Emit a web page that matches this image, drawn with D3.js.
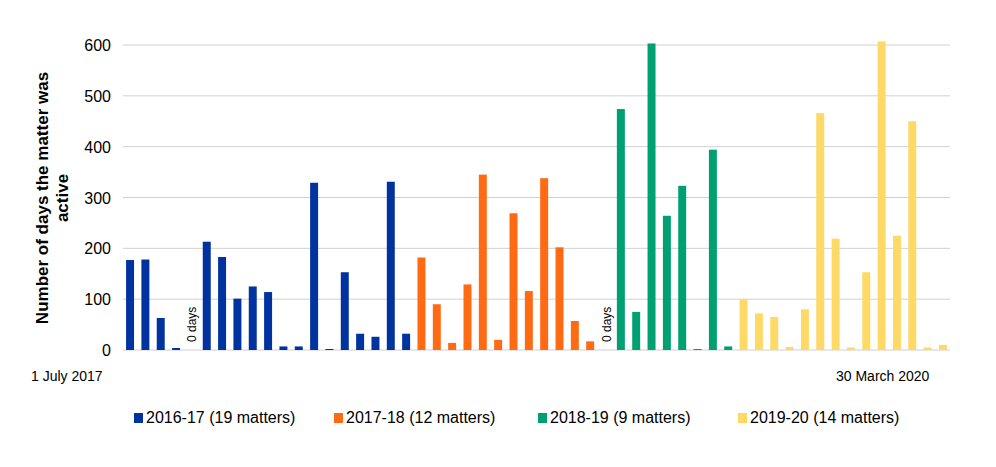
<!DOCTYPE html>
<html><head><meta charset="utf-8">
<script src="https://cdn.jsdelivr.net/npm/d3@7"></script>
<style>body{margin:0;background:#fff}text{font-family:Arial,"Liberation Sans",sans-serif}</style>
</head><body><svg id="c" width="996" height="467"></svg>
<script>
const series = ["2016-17 (19 matters)", "2017-18 (12 matters)", "2018-19 (9 matters)", "2019-20 (14 matters)"];
const colors = ["#0033a0", "#ff6a13", "#00a072", "#ffd966"];
const v1617 = [177, 178, 63, 4, 0, 213, 183, 101, 125, 114, 7, 7, 329, 2, 153, 32, 26, 331, 32];
const v1718 = [182, 90, 14, 129, 345, 20, 269, 116, 338, 202, 57, 17];
const v1819 = [0, 474, 75, 603, 264, 323, 2, 394, 7];
const v1920 = [100, 72, 65, 6, 80, 466, 219, 5, 153, 607, 225, 450, 5, 10];
const yTicks = [0, 100, 200, 300, 400, 500, 600];

const data = [];
[v1617, v1718, v1819, v1920].forEach((arr, s) => arr.forEach(v => data.push({s, v, i: data.length})));

const svg = d3.select("#c");
const x = d3.scaleBand().domain(data.map(d => d.i)).range([123, 950]).paddingInner(0.48).paddingOuter(0.2);
const y = d3.scaleLinear().domain([0, 600]).range([350, 45]);

svg.append("g").selectAll("line").data(yTicks).join("line")
  .attr("x1", 123).attr("x2", 950).attr("y1", d => y(d)).attr("y2", d => y(d))
  .attr("stroke", "#d0d0d0");
svg.append("g").selectAll("text").data(yTicks).join("text")
  .attr("x", 111).attr("y", d => y(d) + 6).attr("text-anchor", "end")
  .attr("font-size", 16).text(d => d);

svg.append("g").selectAll("rect").data(data).join("rect")
  .attr("x", d => x(d.i)).attr("width", x.bandwidth())
  .attr("y", d => y(d.v)).attr("height", d => y(0) - y(d.v))
  .attr("fill", d => colors[d.s]);

svg.append("g").selectAll("text").data(data.filter(d => d.v === 0)).join("text")
  .attr("transform", d => `translate(${x(d.i) + x.bandwidth() / 2 + 5},${y(0) - 8}) rotate(-90)`)
  .attr("font-size", 12).text("0 days");

const yl = svg.append("text").attr("transform", "translate(48,198) rotate(-90)")
  .attr("text-anchor", "middle").attr("font-size", 17).attr("font-weight", "bold");
yl.append("tspan").attr("x", 0).attr("dy", 0).text("Number of days the matter was");
yl.append("tspan").attr("x", 0).attr("dy", 20).text("active");

svg.append("text").attr("x", 31).attr("y", 381).attr("font-family", "Times New Roman, Liberation Serif, serif")
  .attr("font-size", 14).text("1 July 2017");
svg.append("text").attr("x", 836).attr("y", 381).attr("font-family", "Times New Roman, Liberation Serif, serif")
  .attr("font-size", 14).text("30 March 2020");

const lx = [134, 334, 538, 738];
const lg = svg.append("g").selectAll("g").data(series).join("g")
  .attr("transform", (d, i) => `translate(${lx[i]},423)`);
lg.append("rect").attr("x", 0).attr("y", -10).attr("width", 9).attr("height", 10).attr("fill", (d, i) => colors[i]);
lg.append("text").attr("x", 12).attr("y", 0).attr("font-size", 16).text(d => d);
</script></body></html>
